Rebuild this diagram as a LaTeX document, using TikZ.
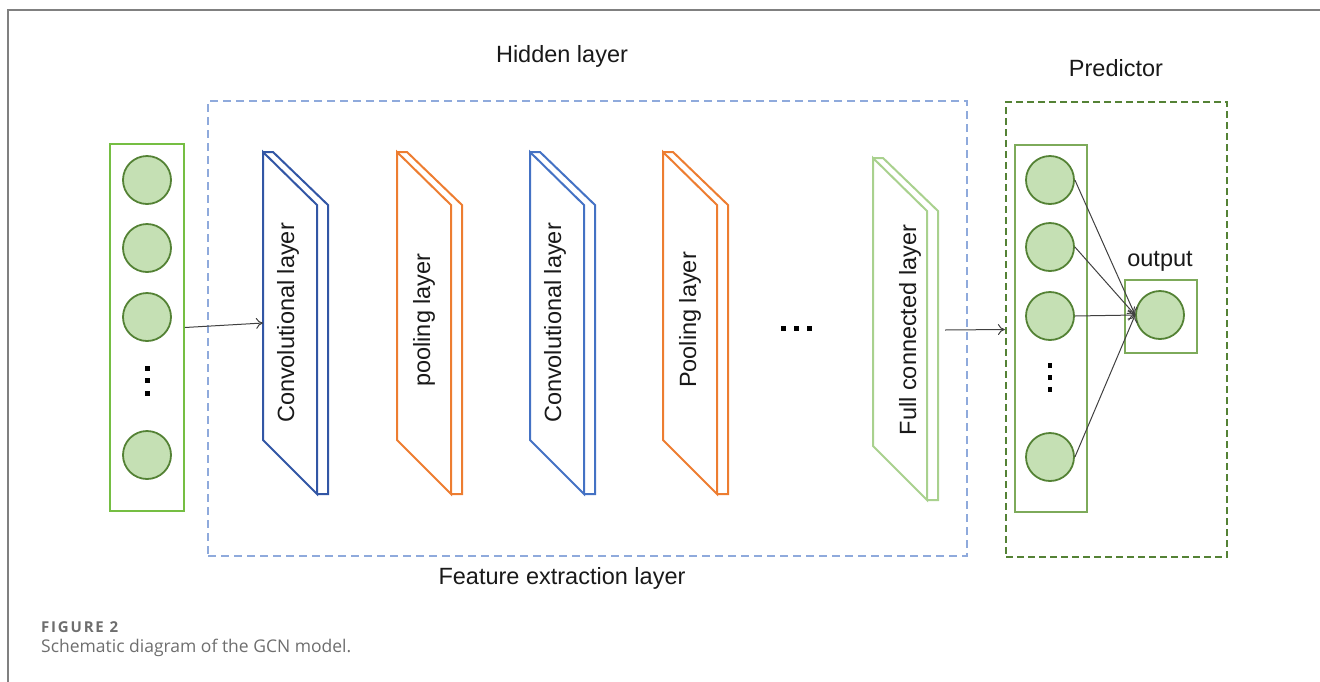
\documentclass[tikz,border=0pt]{standalone}
\usepackage{fontspec}
\setmainfont{Liberation Sans}
\newfontfamily\capfont{Open Sans}
\newfontfamily\capfontsp[LetterSpace=12]{Open Sans}
\usetikzlibrary{arrows.meta}

\definecolor{ingreen}{RGB}{117,190,67}
\definecolor{unitfill}{RGB}{197,224,180}
\definecolor{unitline}{RGB}{84,130,53}
\definecolor{hiddenblue}{RGB}{143,170,220}
\definecolor{predgreen}{RGB}{84,130,53}
\definecolor{innergreen}{RGB}{125,170,90}
\definecolor{convdark}{RGB}{50,86,165}
\definecolor{convblue}{RGB}{68,114,196}
\definecolor{poolorange}{RGB}{237,125,49}
\definecolor{fcgreen}{RGB}{169,209,142}
\definecolor{capgray}{RGB}{110,110,110}

\begin{document}
\begin{tikzpicture}[x=1pt, y=-1pt,
  every node/.style={inner sep=0pt},
  lbl/.style={font=\fontsize{23.5}{28}\selectfont, text=black!90},
  frame/.style={draw=black!50, line width=2pt},
  unit/.style={circle, draw=unitline, fill=unitfill, line width=1.8pt, minimum size=48pt},
  box/.style={rectangle, draw, line width=1.3pt},
  slab/.style={line width=2pt, line join=miter},
  arr/.style={-{To[length=7pt,width=11pt]}, line width=1pt, draw=black!75}]

\useasboundingbox (0,0) rectangle (1320,681);
\draw[frame] (1321,9.5) -- (7.5,9.5) -- (7.5,682);

% input column
\node[box, draw=ingreen, line width=1.8pt, minimum width=74pt, minimum height=367pt] (input) at (147,327.5) {};
\foreach \n/\y in {1/180, 2/248, 3/317, 4/455}
  \node[unit] (in\n) at (147,\y) {};
\foreach \y in {368,380,393}
  \fill (144.5,\y-2.5) rectangle ++(5,5);

% hidden layer
\node[box, draw=hiddenblue, line width=1.5pt, dash pattern=on 8pt off 5pt, minimum width=759pt, minimum height=455pt] (hidden) at (587.5,328.5) {};
\node[lbl] (hiddentitle) at (562,56) {Hidden layer};
\node[lbl] (feature) at (562,578) {Feature extraction layer};

\foreach \n/\x/\y/\c/\lx/\ly/\t in {conv1/263/152/convdark/288/323/Convolutional layer,
    pool1/397/152/poolorange/424/320/pooling layer,
    conv2/530/152/convblue/555/323/Convolutional layer,
    pool2/663/152/poolorange/690/320/Pooling layer,
    fc/873/158/fcgreen/910/330/Full connected layer}
{
  \draw[slab, \c] (\x,\y) -- ++(54,53) -- ++(0,289) -- ++(-54,-54) -- cycle;
  \draw[slab, \c] (\x,\y) -- ++(10,0) -- ++(55,53) -- ++(0,289) -- ++(-11,0);
  \node[lbl, rotate=90] (\n) at (\lx,\ly) {\t};
}
\foreach \x in {783,796,809}
  \fill (\x-2.5,325.5) rectangle ++(5,5);

% predictor
\node[box, draw=predgreen, line width=2.2pt, dash pattern=on 7pt off 4pt, minimum width=221pt, minimum height=455pt] (predictor) at (1116.5,329.5) {};
\node[lbl] (predtitle) at (1116,68) {Predictor};
\node[box, draw=innergreen, line width=1.2pt, minimum width=72pt, minimum height=367pt] (inner) at (1051,328.5) {};
\foreach \n/\y in {1/180, 2/247, 3/316, 4/457}
  \node[unit] (p\n) at (1050,\y) {};
\foreach \y in {365,377,389}
  \fill (1047.5,\y-2) rectangle ++(4.5,4.5);
\node[box, draw=innergreen, line width=1.2pt, minimum width=72pt, minimum height=73pt] (outbox) at (1161,316.5) {};
\node[unit] (out) at (1160,315) {};
\node[lbl] (outlabel) at (1160,261) {output};

% connectors
\coordinate (conv1in) at (263,323);
\coordinate (fcout) at (945,330);
\draw[arr] (input.east) -- (conv1in);
\draw[arr] (fcout) -- (predictor.west);
\foreach \n in {1,...,4}
  \draw[arr] (p\n.east) -- (out.west);

% caption
\node[anchor=west, font=\capfontsp\bfseries\fontsize{15}{18}\selectfont, text=capgray] (fignum) at (41,627) {FIGURE 2};
\node[anchor=west, font=\capfont\fontsize{17.5}{21}\selectfont, text=capgray] (caption) at (41,648) {Schematic diagram of the GCN model.};
\end{tikzpicture}
\end{document}
